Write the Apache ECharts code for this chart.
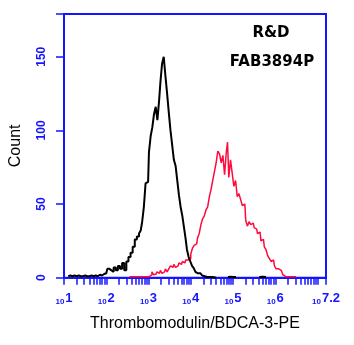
<!DOCTYPE html>
<html><head><meta charset="utf-8">
<script src="https://cdn.jsdelivr.net/npm/echarts@6/dist/echarts.min.js"></script>
<style>html,body{margin:0;padding:0;background:#fff}#c{width:354px;height:345px}</style>
</head><body><div id="c"></div>
<script>
// x positions are log10(fluorescence)
var blackX = [1.10,1.15,1.20,1.25,1.30,1.35,1.40,1.45,1.50,1.55,1.60,1.65,1.70,1.75,1.80,1.85,1.90,1.95,2.00,2.05,2.10,2.15,2.20,2.25,2.30,2.35,2.40,2.45,2.50,2.55,2.60,2.65,2.70,2.75,2.80,2.83,2.87,2.91,2.95,2.99,3.03,3.07,3.11,3.15,3.19,3.23,3.27,3.30,3.34,3.38,3.42,3.46,3.50,3.54,3.58,3.62,3.66,3.70,3.74,3.78,3.82,3.86,3.89,3.93,3.97,4.01,4.05,4.09,4.13,4.17,4.21,4.25,4.29,4.33,4.37,4.41,4.45,4.50,4.55,4.60];
var blackY = [1,1.5,1,1.5,1,1.5,1,1,1.5,1,1,1.5,1,1.5,1,2,1.5,2.5,3,6,5,4,7,5,8,6,10,5,11,14,17,21,26,28,30,32,38,48,64,65,85,96,102,111,116,107,120,134,145,150,137,125,112,100,90,80,76,66,56,48,42,34,27,19,14,11,8,6.5,4,3,3,2,1.5,1,0.5,1,0.5,0.5,0.3,0];
var blackTailX = [4.88,4.95,5.02,5.07,null,5.62,5.70,5.78];
var blackTailY = [0.5,0.6,0.5,0.5,null,0.5,0.6,0.5];
var redX = [2.55,2.65,2.75,2.85,2.95,3.02,3.06,3.10,3.14,3.18,3.22,3.26,3.30,3.34,3.38,3.42,3.46,3.50,3.54,3.58,3.62,3.66,3.70,3.74,3.78,3.82,3.86,3.90,3.94,3.98,4.02,4.06,4.10,4.14,4.18,4.22,4.26,4.30,4.34,4.38,4.42,4.46,4.50,4.54,4.58,4.62,4.66,4.70,4.74,4.78,4.82,4.86,4.88,4.92,4.96,5.00,5.04,5.08,5.12,5.16,5.20,5.24,5.28,5.32,5.36,5.40,5.44,5.48,5.52,5.56,5.60,5.64,5.68,5.72,5.76,5.80,5.84,5.88,5.92,5.96,6.00,6.04,6.08,6.12,6.16,6.20,6.25,6.30,6.35,6.40,6.45,6.49];
var redY = [0.7,0.7,0.7,0.7,0.7,0.7,2,4,2,2.5,4,3,5,3,4,6,4,6,8,7,9,7,8,10,9,11,10,12,12,13,16,20,22,23,27,30,36,40,42,46,48,55,60,66,72,78,86,84,78,83,70,85,92,68,80,71,62,66,55,57,53,49,50,39,35,38,36,37,34,33,30,31,25,26,21,19,15,13,11,12,8,6,6,5,4,2,0.7,0.7,0.7,0.7,0.7,0.7];
var decades = [1,2,3,4,5,6,7];
var xLabelValues = [1,2,3,4,5,6,7.2];
var xEnd = 7.2;
var yTickLabels = [0,50,100,150];
var yMax = 179;
var xTitle = 'Thrombomodulin/BDCA-3-PE';
var yTitle = 'Count';
var note1 = 'R&D', note2 = 'FAB3894P';

function pairs(xs, ys){ return xs.map(function(x,i){ return x===null ? [null,null] : [x, ys[i]]; }); }
var minorTicks = [];
decades.forEach(function(d){ for (var k=1;k<=9;k++){ var v = d + Math.log10(k); if (v <= xEnd + 1e-9) minorTicks.push(v); } });
minorTicks.push(xEnd);
var BLUE = '#1414ff';
var chart = echarts.init(document.getElementById('c'), null, {renderer:'canvas'});
chart.setOption({
  animation:false,
  grid:{left:62.3, right:28, top:14, bottom:67.3, show:true, borderColor:BLUE, borderWidth:2},
  xAxis:{type:'value', min:1, max:xEnd, splitLine:{show:false},
    axisLine:{lineStyle:{color:BLUE, width:2}},
    axisTick:{customValues:minorTicks, length:7, lineStyle:{color:BLUE, width:1.5}},
    axisLabel:{customValues:xLabelValues, margin:14, color:BLUE, showMaxLabel:true, hideOverlap:false,
      formatter:function(v){ return '{s|10}{e|' + (Math.round(v*10)/10) + '}'; },
      rich:{s:{fontSize:8, fontWeight:'bold', color:BLUE, fontFamily:'Liberation Sans', verticalAlign:'bottom', padding:[0,1,-1,0]},
            e:{fontSize:13, fontWeight:'bold', color:BLUE, fontFamily:'Liberation Sans', verticalAlign:'bottom'}}},
    name:xTitle, nameLocation:'middle', nameGap:38,
    nameTextStyle:{color:'#000', fontSize:16, fontFamily:'Liberation Sans'}},
  yAxis:{type:'value', min:0, max:yMax, splitLine:{show:false},
    axisLine:{lineStyle:{color:BLUE, width:2}},
    axisTick:{customValues:yTickLabels.concat([yMax]), length:8, lineStyle:{color:BLUE, width:1.5}},
    axisLabel:{customValues:yTickLabels, rotate:90, margin:16, color:BLUE, fontSize:12, fontWeight:'bold', fontFamily:'Liberation Sans'},
    name:yTitle, nameLocation:'middle', nameGap:40, nameRotate:90,
    nameTextStyle:{color:'#000', fontSize:16, fontFamily:'Liberation Sans'}},
  graphic:[
    {type:'text', style:{text:note1, x:271, y:33, fill:'#000', font:'bold 15px "DejaVu Sans"', textAlign:'center', textVerticalAlign:'middle'}},
    {type:'text', style:{text:note2, x:272, y:62, fill:'#000', font:'bold 15px "DejaVu Sans"', textAlign:'center', textVerticalAlign:'middle'}}
  ],
  series:[
    {type:'line', data:pairs(redX, redY), step:'middle', showSymbol:false, lineStyle:{color:'#ff0a3c', width:1.5}, z:2},
    {type:'line', data:pairs(blackX, blackY), step:'middle', showSymbol:false, lineStyle:{color:'#000', width:2}, z:3},
    {type:'line', data:pairs(blackTailX, blackTailY), step:'middle', showSymbol:false, connectNulls:false, lineStyle:{color:'#000', width:2}, z:3}
  ]
});
</script></body></html>
